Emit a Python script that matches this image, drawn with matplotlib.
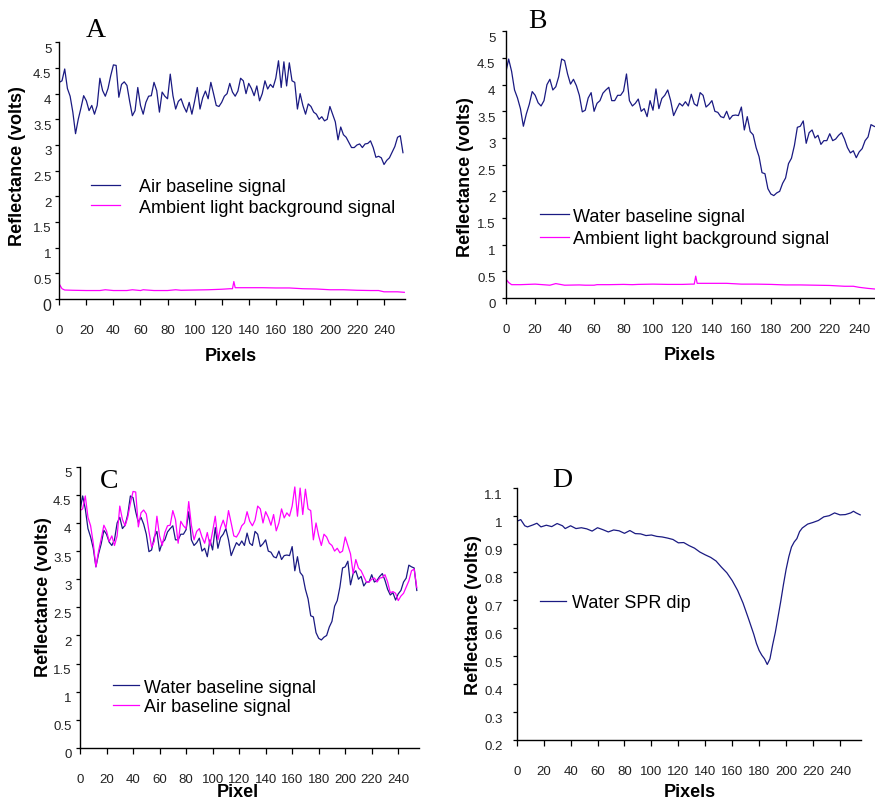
import numpy as np
import matplotlib
matplotlib.use('Agg')
import matplotlib.pyplot as plt
import matplotlib.transforms as mtransforms
from matplotlib.ticker import FuncFormatter

plt.rcParams['font.family'] = ['Liberation Sans', 'DejaVu Sans']

navy = '#1a1a82'
pink = '#ff00ff'

# detector pixel index, every second pixel
pixels = np.arange(0, 256, 2)

# air baseline signal (volts)
air = [4.22, 4.25, 4.48, 4.1, 3.95, 3.64, 3.22, 3.5, 3.72, 3.96,
       3.86, 3.67, 3.77, 3.6, 3.77, 4.3, 4.06, 3.95, 4.1, 4.35,
       4.56, 4.55, 3.93, 4.18, 4.23, 4.16, 3.85, 3.57, 3.67, 4.12,
       3.77, 3.6, 3.83, 3.95, 3.96, 4.22, 4.06, 3.64, 4.03, 3.95,
       3.9, 4.38, 3.96, 3.7, 3.85, 3.9, 3.75, 3.64, 3.83, 3.6,
       3.85, 4.12, 3.7, 3.92, 4.05, 3.9, 4.22, 4.0, 3.77, 3.75,
       3.83, 3.95, 4.0, 4.2, 4.03, 3.95, 4.05, 4.3, 4.25, 4.0,
       4.2, 4.1, 3.96, 4.15, 3.86, 4.0, 4.25, 4.09, 4.18, 4.12,
       4.3, 4.64, 4.12, 4.62, 4.15, 4.6, 4.25, 4.22, 3.7, 4.0,
       3.77, 3.6, 3.8, 3.75, 3.64, 3.6, 3.5, 3.55, 3.47, 3.5,
       3.75, 3.6, 3.45, 3.1, 3.35, 3.2, 3.15, 3.05, 2.95, 2.95,
       3.0, 3.02, 2.95, 3.02, 3.03, 3.08, 2.95, 2.76, 2.78, 2.75,
       2.62, 2.7, 2.75, 2.86, 2.97, 3.15, 3.18, 2.85]

# water baseline signal (volts)
water = [4.22, 4.48, 4.25, 3.9, 3.75, 3.55, 3.22, 3.45, 3.63, 3.87,
         3.8, 3.66, 3.6, 3.7, 4.0, 4.1, 3.9, 3.96, 4.15, 4.48,
         4.45, 4.2, 4.01, 4.1, 3.98, 3.8, 3.49, 3.52, 3.75, 3.85,
         3.5, 3.65, 3.7, 3.84, 3.9, 3.95, 3.7, 3.7, 3.8, 3.8,
         3.88, 4.2, 3.7, 3.6, 3.65, 3.73, 3.5, 3.55, 3.4, 3.7,
         3.52, 3.92, 3.55, 3.74, 3.8, 3.9, 3.7, 3.42, 3.54, 3.65,
         3.6, 3.68, 3.6, 3.82, 3.64, 3.6, 3.85, 3.8, 3.58, 3.63,
         3.7, 3.5, 3.48, 3.4, 3.38, 3.5, 3.35, 3.42, 3.43, 3.42,
         3.58, 3.15, 3.4, 3.12, 3.06, 2.82, 2.65, 2.35, 2.33, 2.05,
         1.95, 1.92, 1.97, 2.0, 2.15, 2.25, 2.52, 2.62, 2.86, 3.2,
         3.22, 3.32, 2.9, 3.1, 3.15, 3.0, 3.05, 2.88, 2.95, 2.95,
         3.08, 2.95, 2.98, 3.05, 3.1, 2.98, 2.82, 2.72, 2.76, 2.63,
         2.74, 2.8, 2.95, 3.02, 3.25, 3.22, 3.2, 2.8]

# ambient light background
amb_px = [0, 2, 4, 10, 20, 30, 34, 40, 50, 54,
          60, 62, 70, 80, 86, 90, 100, 110, 120, 126,
          128, 129, 130, 140, 150, 160, 170, 180, 190, 200,
          210, 220, 230, 236, 240, 246, 250, 255]
amb_a = [0.29, 0.2, 0.175, 0.17, 0.165, 0.165, 0.18, 0.165, 0.165, 0.18,
         0.165, 0.18, 0.165, 0.165, 0.18, 0.17, 0.175, 0.18, 0.19, 0.2,
         0.2, 0.34, 0.22, 0.22, 0.22, 0.215, 0.215, 0.2, 0.195, 0.18,
         0.18, 0.17, 0.165, 0.165, 0.14, 0.14, 0.14, 0.13]
amb_b = [0.36, 0.29, 0.25, 0.25, 0.26, 0.24, 0.27, 0.24, 0.245, 0.24,
         0.24, 0.25, 0.25, 0.255, 0.25, 0.255, 0.26, 0.255, 0.255, 0.26,
         0.26, 0.41, 0.275, 0.275, 0.275, 0.26, 0.26, 0.255, 0.245, 0.245,
         0.24, 0.235, 0.22, 0.22, 0.2, 0.18, 0.17, 0.16]

# water SPR dip
spr_px = [0, 3, 6, 8, 12, 15, 18, 22, 26, 30,
          34, 36, 40, 44, 48, 52, 56, 60, 64, 68,
          72, 76, 80, 84, 88, 92, 96, 100, 104, 108,
          112, 116, 120, 124, 128, 132, 136, 140, 144, 148,
          152, 156, 160, 164, 168, 172, 176, 178, 180, 182,
          184, 186, 188, 190, 192, 194, 196, 198, 200, 202,
          204, 206, 208, 210, 212, 216, 220, 224, 228, 232,
          236, 240, 244, 248, 250, 252, 255]
spr = [0.982, 0.988, 0.966, 0.962, 0.969, 0.975, 0.962, 0.968, 0.963, 0.974,
       0.966, 0.956, 0.966, 0.956, 0.959, 0.955, 0.947, 0.959, 0.952, 0.944,
       0.951, 0.948, 0.939, 0.949, 0.938, 0.937, 0.931, 0.933, 0.928, 0.926,
       0.922, 0.917, 0.905, 0.906, 0.895, 0.886, 0.872, 0.862, 0.853, 0.84,
       0.818, 0.798, 0.77, 0.735, 0.69, 0.635, 0.578, 0.545, 0.52, 0.503,
       0.49, 0.47, 0.49, 0.54, 0.585, 0.64, 0.695, 0.755, 0.81, 0.855,
       0.89, 0.908, 0.92, 0.945, 0.958, 0.972, 0.978, 0.985, 0.998, 1.002,
       1.012, 1.005, 1.006, 1.012, 1.018, 1.012, 1.005]

xticks = np.arange(0, 241, 20)
W, H = 875, 803

fig = plt.figure(figsize=(W / 100, H / 100), dpi=100)


def add_panel(left, top, px_per_unit, bottom, ylim, ystep, ypad):
    # positions are in picture pixels
    width = px_per_unit * 255.5
    ax = fig.add_axes([left / W, 1 - bottom / H, width / W, (bottom - top) / H])
    ax.set_xlim(0, 255.5)
    ax.set_ylim(*ylim)
    ax.set_xticks(xticks)
    ax.set_yticks(np.round(np.arange(ylim[0], ylim[1] + 1e-9, ystep), 2))
    ax.yaxis.set_major_formatter(FuncFormatter(lambda v, p: f'{v:g}'))
    for s in ['top', 'right']:
        ax.spines[s].set_visible(False)
    for s in ['left', 'bottom']:
        ax.spines[s].set_linewidth(1.0)
    ax.tick_params(axis='x', direction='out', length=4, width=0.9, pad=14,
                   labelsize=9.5, labelcolor='#222222')
    ax.tick_params(axis='y', direction='out', length=3, width=0.9, pad=ypad,
                   labelsize=9.5, labelcolor='#222222')
    off = mtransforms.ScaledTranslation(0, -0.05, fig.dpi_scale_trans)
    for lab in ax.get_yticklabels():
        lab.set_transform(lab.get_transform() + off)
    return ax


def put_legend(ax, x, y, hl, pad, sp):
    ax.legend(loc='center left', bbox_to_anchor=(x / W, 1 - y / H),
              bbox_transform=fig.transFigure, frameon=False, fontsize=13,
              handlelength=hl, handletextpad=pad, labelspacing=sp,
              borderpad=0, borderaxespad=0)


# A
axA = add_panel(59.3, 43.3, 1.353, 300, (0, 5), 0.5, 2.6)
axA.plot(pixels, air, color=navy, lw=0.9, label='Air baseline signal')
axA.plot(amb_px, amb_a, color=pink, lw=0.9, label='Ambient light background signal')
axA.get_yticklabels()[0].set_fontsize(11.5)
put_legend(axA, 91, 198, 1.6, 1.05, 0.2)

# B
axB = add_panel(505.7, 32.3, 1.473, 299, (0, 5), 0.5, 4.3)
axB.plot(pixels, water, color=navy, lw=0.9, label='Water baseline signal')
axB.plot(amb_px, amb_b, color=pink, lw=0.9, label='Ambient light background signal')
put_legend(axB, 540, 228.5, 1.6, 0.25, 0.3)

# C
axC = add_panel(80, 467.7, 1.326, 749, (0, 5), 0.5, 3.1)
axC.plot(pixels, water, color=navy, lw=0.9, label='Water baseline signal')
axC.plot(pixels, air, color=pink, lw=0.9, label='Air baseline signal')
put_legend(axC, 113, 698, 1.45, 0.25, 0.15)

# D
axD = add_panel(516.7, 489.3, 1.347, 741, (0.2, 1.1), 0.1, 7)
axD.plot(spr_px, spr, color=navy, lw=0.9, label='Water SPR dip')
put_legend(axD, 540, 604, 1.45, 0.3, 0.2)

# axis titles
ylab = dict(rotation=90, ha='center', va='center', fontsize=13, fontweight='bold')
fig.text(18 / W, 1 - 166 / H, 'Reflectance (volts)', **ylab)
fig.text(465 / W, 1 - 177 / H, 'Reflectance (volts)', **ylab)
fig.text(44 / W, 1 - 597 / H, 'Reflectance (volts)', **ylab)
fig.text(474 / W, 1 - 615 / H, 'Reflectance (volts)', **ylab)

xlab = dict(ha='center', va='center', fontsize=13, fontweight='bold')
fig.text(231 / W, 1 - 357 / H, 'Pixels', **xlab)
fig.text(690 / W, 1 - 356 / H, 'Pixels', **xlab)
fig.text(238 / W, 1 - 793 / H, 'Pixel', **xlab)
fig.text(690 / W, 1 - 793 / H, 'Pixels', **xlab)

# panel letters
let = dict(ha='center', va='baseline', fontsize=20, family='Liberation Serif')
fig.text(96 / W, 1 - 37 / H, 'A', **let)
fig.text(537 / W, 1 - 28 / H, 'B', **let)
fig.text(109 / W, 1 - 488 / H, 'C', **let)
fig.text(562 / W, 1 - 487 / H, 'D', **let)

fig.savefig('out.png', dpi=100)
